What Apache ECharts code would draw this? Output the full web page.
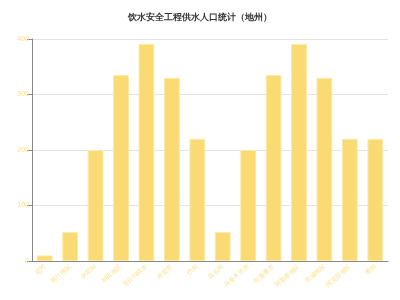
<!DOCTYPE html>
<html><head><meta charset="utf-8">
<script src="https://cdn.jsdelivr.net/npm/echarts@6/dist/echarts.min.js"></script>
<style>html,body{margin:0;padding:0}#c{width:400px;height:300px}</style>
</head><body><div id="c"></div>
<script>
var titleText = '饮水安全工程供水人口统计（地州）';
var categories = ['克州','喀什地区','伊犁州','和田地区','克拉玛依市','哈密市','巴州','昌吉州','乌鲁木齐市','吐鲁番市','阿勒泰地区','塔城地区','阿克苏地区','博州'];
var values = [10, 52, 200, 335, 391, 330, 220, 52, 200, 335, 391, 330, 220, 220];
var yTicks = [0, 100, 200, 300, 400];

var chart = echarts.init(document.getElementById('c'));
chart.setOption({
  animation: false,
  title: { text: titleText, left: 'center', top: 8, textStyle: { fontSize: 9, fontWeight: 'bold', color: '#333' } },
  grid: { left: 32, right: 12, top: 39, bottom: 39 },
  xAxis: {
    type: 'category', data: categories,
    axisLine: { lineStyle: { color: '#888' } },
    axisTick: { alignWithLabel: true, lineStyle: { color: '#888' } },
    axisLabel: { rotate: 40, fontSize: 6, color: '#fbe08a', interval: 0, margin: 5 }
  },
  yAxis: {
    type: 'value', min: yTicks[0], max: yTicks[yTicks.length-1], interval: 100,
    axisLine: { show: true, lineStyle: { color: '#888' } },
    axisTick: { show: true, lineStyle: { color: '#888' } },
    axisLabel: { fontSize: 7, color: '#fbe08a', margin: 3 },
    splitLine: { lineStyle: { color: '#e3e3e3' } }
  },
  series: [{
    type: 'bar', data: values, barWidth: '62%',
    itemStyle: { color: '#f9da73', borderColor: '#fdeaa8', borderWidth: 1 }
  }]
});
</script></body></html>
